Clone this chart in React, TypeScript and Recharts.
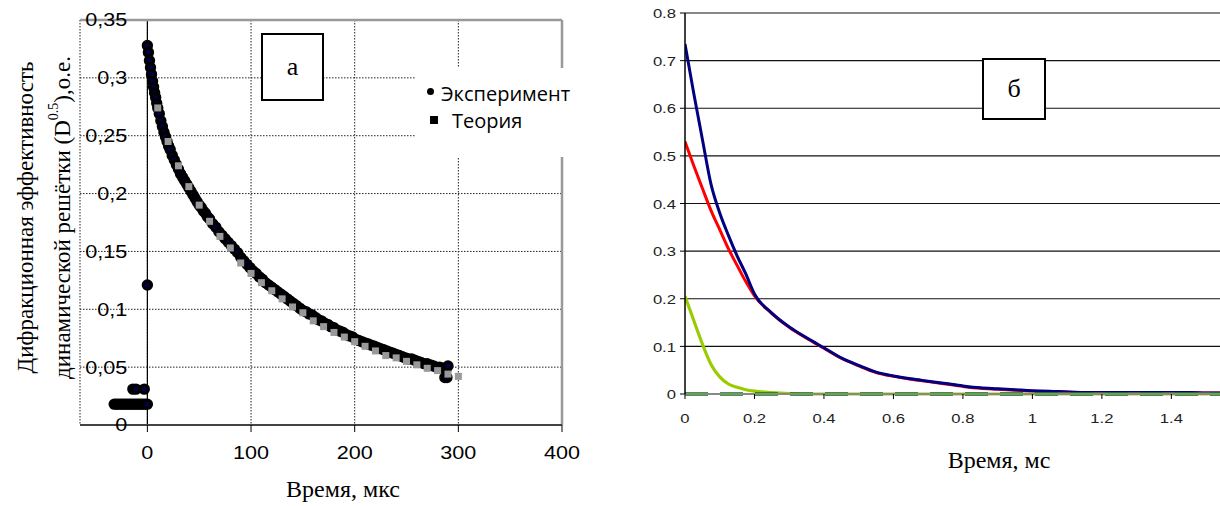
import React from "react";
import {
  ScatterChart,
  Scatter,
  LineChart,
  Line,
  XAxis,
  YAxis,
  CartesianGrid,
  ReferenceLine,
  Legend,
  Label,
} from "recharts";

// ---- panel "а": diffraction efficiency vs time (µs)
const expX = [
  -32, -30, -28, -26, -24, -22, -20, -18, -16, -14, -12, -10, -8, -6, -4, -2, 0,
  -14, -11, -3, 0, 0,
  1, 2, 3, 4, 5, 6, 7, 8, 9, 10, 11.5, 13, 14.5, 16, 17.5, 19, 20.5, 22, 24, 26, 28, 30,
  32, 34, 36, 38, 40, 42, 44, 46, 48, 50, 52, 54, 56, 58, 60, 63, 66, 69, 72, 75, 78,
  81, 84, 87, 90, 93, 96, 99, 102, 105, 108, 111, 114, 117, 120, 123, 126, 129, 132,
  135, 138, 141, 144, 147, 150, 153, 156, 159, 162, 165, 168, 171, 174, 177, 180, 183,
  186, 189, 192, 195, 198, 201, 204, 207, 210, 213, 216, 219, 222, 225, 228, 231, 234,
  237, 240, 243, 246, 249, 252, 255, 258, 261, 264, 267, 270, 273, 276, 279, 282, 285,
  288, 290, 287, 289,
];
const expY = [
  0.018, 0.018, 0.018, 0.018, 0.018, 0.018, 0.018, 0.018, 0.018, 0.018, 0.018, 0.018,
  0.018, 0.018, 0.018, 0.018, 0.018,
  0.031, 0.031, 0.031, 0.121, 0.328,
  0.322, 0.315, 0.309, 0.303, 0.297, 0.292, 0.287, 0.283, 0.278, 0.274, 0.269, 0.263,
  0.258, 0.253, 0.249, 0.245, 0.241, 0.238, 0.233, 0.229, 0.225, 0.221, 0.217, 0.214,
  0.211, 0.208, 0.205, 0.202, 0.199, 0.196, 0.193, 0.19, 0.188, 0.185, 0.183, 0.18,
  0.178, 0.174, 0.171, 0.167, 0.164, 0.161, 0.158, 0.155, 0.152, 0.149, 0.145, 0.142,
  0.139, 0.136, 0.133, 0.131, 0.128, 0.126, 0.123, 0.121, 0.119, 0.117, 0.115, 0.113,
  0.111, 0.109, 0.107, 0.105, 0.103, 0.101, 0.099, 0.098, 0.096, 0.095, 0.093, 0.091,
  0.09, 0.088, 0.087, 0.085, 0.084, 0.082, 0.081, 0.08, 0.078, 0.077, 0.076, 0.074,
  0.073, 0.072, 0.071, 0.07, 0.069, 0.068, 0.067, 0.066, 0.065, 0.064, 0.063, 0.062,
  0.061, 0.06, 0.059, 0.058, 0.057, 0.057, 0.056, 0.055, 0.054, 0.053, 0.053, 0.052,
  0.051, 0.05, 0.05, 0.049, 0.048, 0.051, 0.041, 0.041,
];
const theoryX = [
  10, 20, 30, 40, 50, 60, 70, 80, 90, 100, 110, 120, 130, 140, 150, 160, 170, 180, 190,
  200, 210, 220, 230, 240, 250, 260, 270, 280, 290, 300,
];
const theoryY = [
  0.274, 0.245, 0.224, 0.206, 0.19, 0.176, 0.163, 0.153, 0.14, 0.131, 0.123, 0.116,
  0.109, 0.102, 0.097, 0.09, 0.085, 0.08, 0.076, 0.072, 0.068, 0.064, 0.06, 0.058,
  0.055, 0.052, 0.049, 0.047, 0.044, 0.042,
];
const leftXTicks = [0, 100, 200, 300, 400];
const leftYTicks = [0, 0.05, 0.1, 0.15, 0.2, 0.25, 0.3, 0.35];

// ---- panel "б": curves vs time (ms)
const timeMs = [
  0, 0.025, 0.05, 0.075, 0.1, 0.125, 0.15, 0.175, 0.2, 0.25, 0.3, 0.35, 0.4, 0.45, 0.5,
  0.55, 0.6, 0.65, 0.7, 0.75, 0.8, 0.85, 0.9, 0.95, 1, 1.05, 1.1, 1.15, 1.2, 1.25, 1.3,
  1.35, 1.4, 1.45, 1.5, 1.55,
];
const blueY = [
  0.735, 0.632, 0.535, 0.44, 0.38, 0.333, 0.29, 0.252, 0.21, 0.17, 0.141, 0.118, 0.097,
  0.076, 0.06, 0.046, 0.038, 0.032, 0.027, 0.022, 0.017, 0.013, 0.011, 0.009, 0.007,
  0.006, 0.004, 0.003, 0.003, 0.003, 0.003, 0.003, 0.003, 0.003, 0.002, 0.002,
];
const redY = [
  0.53, 0.48, 0.432, 0.385, 0.345, 0.305, 0.27, 0.236, 0.206, 0.169, 0.14, 0.117, 0.096,
  0.075, 0.059, 0.045, 0.037, 0.031, 0.026, 0.021, 0.016, 0.012, 0.01, 0.008, 0.006,
  0.005, 0.004, 0.003, 0.003, 0.003, 0.003, 0.003, 0.003, 0.003, 0.002, 0.002,
];
const greenY = [
  0.205, 0.155, 0.105, 0.062, 0.036, 0.021, 0.014, 0.009, 0.006, 0.003, 0.001, 0, 0, 0,
  0, 0, 0, 0, 0, 0, 0, 0, 0, 0, 0, 0, 0, 0, 0, 0, 0, 0, 0, 0, 0, 0,
];
const darkGreenY = [
  0, 0, 0, 0, 0, 0, 0, 0, 0, 0, 0, 0, 0, 0, 0, 0, 0, 0, 0, 0, 0, 0, 0, 0, 0, 0, 0, 0, 0,
  0, 0, 0, 0, 0, 0, 0,
];
const rightXTicks = [0, 0.2, 0.4, 0.6, 0.8, 1, 1.2, 1.4];
const rightYTicks = [0, 0.1, 0.2, 0.3, 0.4, 0.5, 0.6, 0.7, 0.8];

const expData = expX.map((x, i) => ({ x, y: expY[i] }));
const theoryData = theoryX.map((x, i) => ({ x, y: theoryY[i] }));
const lineData = timeMs.map((t, i) => ({
  t,
  blue: blueY[i],
  red: redY[i],
  green: greenY[i],
  dark: darkGreenY[i],
}));

const SANS = "'Liberation Sans', Arial, sans-serif";
const SERIF = "'Liberation Serif', 'Times New Roman', serif";

const LEFT_W = 620;
const LEFT_YAXIS_W = 60;
const leftMargin = { top: 20, right: 58, bottom: 41, left: 20 };
const leftPlotLeft = leftMargin.left + LEFT_YAXIS_W;
const leftDomain: [number, number] = [-65, 400];
const leftZeroX =
  leftPlotLeft +
  ((0 - leftDomain[0]) / (leftDomain[1] - leftDomain[0])) *
    (LEFT_W - leftPlotLeft - leftMargin.right);

function LeftYTick({ y, payload }: any) {
  return (
    <text
      transform={`translate(${leftZeroX - 20},${y}) scale(1.2,1)`}
      textAnchor="end"
      dy="0.36em"
      fontSize={18}
      fontFamily={SANS}
      fill="#000"
    >
      {String(payload.value).replace(".", ",")}
    </text>
  );
}

function LeftXTick({ x, y, payload }: any) {
  return (
    <text
      transform={`translate(${x},${y}) scale(1.2,1)`}
      textAnchor="middle"
      dy={27}
      fontSize={18}
      fontFamily={SANS}
      fill="#000"
    >
      {payload.value}
    </text>
  );
}

function RightYTick({ x, y, payload }: any) {
  return (
    <text
      transform={`translate(${x},${y}) scale(1.28,1)`}
      textAnchor="end"
      dy="0.4em"
      fontSize={13}
      fontFamily={SANS}
      fill="#222"
    >
      {payload.value}
    </text>
  );
}

function RightXTick({ x, y, payload }: any) {
  return (
    <text
      transform={`translate(${x},${y}) scale(1.28,1)`}
      textAnchor="middle"
      dy={24}
      fontSize={13}
      fontFamily={SANS}
      fill="#222"
    >
      {payload.value}
    </text>
  );
}

function LeftYTitle({ viewBox }: any) {
  const cy = viewBox.y + viewBox.height / 2 - 5;
  const right = viewBox.x + viewBox.width;
  return (
    <g fontFamily={SERIF} fontSize={23} fill="#000">
      <text transform={`translate(${right - 47},${cy}) rotate(-90)`} textAnchor="middle">
        Дифракционная эффективность
      </text>
      <text transform={`translate(${right - 10},${cy}) rotate(-90)`} textAnchor="middle">
        динамической решётки (D
        <tspan dy={-12} fontSize={14}>0.5</tspan>
        <tspan dy={12}>),о.е.</tspan>
      </text>
    </g>
  );
}

function LegendBox() {
  return (
    <div style={{ position: "relative", width: 165, height: 89, fontFamily: "'Open Sans', sans-serif", fontSize: 20, color: "#000" }}>
      <div style={{ position: "absolute", left: 11, top: 20, width: 7, height: 7, borderRadius: "50%", background: "#000" }} />
      <div style={{ position: "absolute", left: 25, top: 13, lineHeight: "26px", whiteSpace: "nowrap" }}>Эксперимент</div>
      <div style={{ position: "absolute", left: 14, top: 48, width: 8, height: 8, background: "#000" }} />
      <div style={{ position: "absolute", left: 36, top: 40, lineHeight: "26px", whiteSpace: "nowrap" }}>Теория</div>
    </div>
  );
}

function PanelA() {
  return (
    <ScatterChart width={LEFT_W} height={506} margin={leftMargin}>
      <CartesianGrid stroke="#222" strokeDasharray="1.5 1.5" />
      <ReferenceLine x={0} stroke="#000" strokeWidth={1.2} />
      <ReferenceLine y={0.35} stroke="#999" strokeWidth={2.5} />
      <ReferenceLine x={400} stroke="#999" strokeWidth={2.5} />
      <XAxis
        type="number"
        dataKey="x"
        domain={leftDomain}
        ticks={leftXTicks}
        allowDataOverflow
        height={40}
        tickSize={7}
        tickMargin={0}
        tickLine={{ stroke: "#000" }}
        axisLine={{ stroke: "#444", strokeWidth: 2 }}
        tick={<LeftXTick />}
      >
        <Label
          content={({ viewBox }: any) => (
            <text x={viewBox.x + 263} y={viewBox.y + 72} textAnchor="middle" fontSize={24} fontFamily={SERIF} fill="#000">
              Время, мкс
            </text>
          )}
        />
      </XAxis>
      <YAxis
        type="number"
        dataKey="y"
        domain={[0, 0.35]}
        ticks={leftYTicks}
        width={LEFT_YAXIS_W}
        axisLine={false}
        tickLine={false}
        tick={<LeftYTick />}
      >
        <Label content={<LeftYTitle />} />
      </YAxis>
      <Scatter
        name="Эксперимент"
        data={expData}
        isAnimationActive={false}
        shape={(p: any) => (
          <circle cx={p.cx} cy={p.cy} r={4} fill="#000050" stroke="#000" strokeWidth={3.4} />
        )}
      />
      <Scatter
        name="Теория"
        data={theoryData}
        isAnimationActive={false}
        shape={(p: any) => <rect x={p.cx - 3.5} y={p.cy - 3.5} width={7} height={7} fill="#999999" />}
      />
      <Legend
        layout="horizontal"
        align="center"
        verticalAlign="middle"
        content={() => <LegendBox />}
        wrapperStyle={{ left: 416, top: 68, width: 165, height: 89, background: "#fff" }}
      />
    </ScatterChart>
  );
}

function PanelB() {
  return (
    <LineChart width={580} height={506} data={lineData} margin={{ top: 13, right: 0, bottom: 82, left: 0 }}>
      <CartesianGrid vertical={false} stroke="#111" strokeWidth={1.2} />
      <XAxis
        type="number"
        dataKey="t"
        domain={[0, 1.54]}
        ticks={rightXTicks}
        allowDataOverflow
        height={30}
        tickSize={5}
        tickMargin={0}
        tickLine={{ stroke: "#000" }}
        axisLine={{ stroke: "#888", strokeWidth: 2 }}
        tick={<RightXTick />}
      >
        <Label
          content={({ viewBox }: any) => (
            <text x={viewBox.x + 314} y={viewBox.y + 74} textAnchor="middle" fontSize={24} fontFamily={SERIF} fill="#000">
              Время, мс
            </text>
          )}
        />
      </XAxis>
      <YAxis
        type="number"
        domain={[0, 0.8]}
        ticks={rightYTicks}
        width={45}
        tickSize={5}
        tickMargin={4}
        tickLine={{ stroke: "#000" }}
        axisLine={{ stroke: "#000", strokeWidth: 1.5 }}
        tick={<RightYTick />}
      />
      <Line type="monotone" dataKey="red" stroke="#ff0000" strokeWidth={3} dot={false} isAnimationActive={false} />
      <Line type="monotone" dataKey="blue" stroke="#000080" strokeWidth={3} dot={false} isAnimationActive={false} />
      <Line type="monotone" dataKey="green" stroke="#99cc00" strokeWidth={3.2} dot={false} isAnimationActive={false} />
      <Line
        type="linear"
        dataKey="dark"
        stroke="#008000"
        strokeWidth={3.5}
        strokeDasharray="23 12"
        dot={false}
        isAnimationActive={false}
      />
    </LineChart>
  );
}

const boxStyle: React.CSSProperties = {
  position: "absolute",
  boxSizing: "border-box",
  border: "2px solid #000",
  background: "#fff",
  display: "flex",
  alignItems: "center",
  justifyContent: "center",
  fontFamily: SERIF,
  fontSize: 26,
};

export default function App() {
  return (
    <div style={{ position: "absolute", left: 0, top: 0, width: 1220, height: 506, background: "#fff", overflow: "hidden" }}>
      <div style={{ position: "absolute", left: 0, top: 0 }}>
        <PanelA />
      </div>
      <div style={{ position: "absolute", left: 640, top: 0 }}>
        <PanelB />
      </div>
      <div style={{ ...boxStyle, left: 261, top: 33, width: 63, height: 68 }}>а</div>
      <div style={{ ...boxStyle, left: 982, top: 58, width: 64, height: 62 }}>б</div>
    </div>
  );
}
